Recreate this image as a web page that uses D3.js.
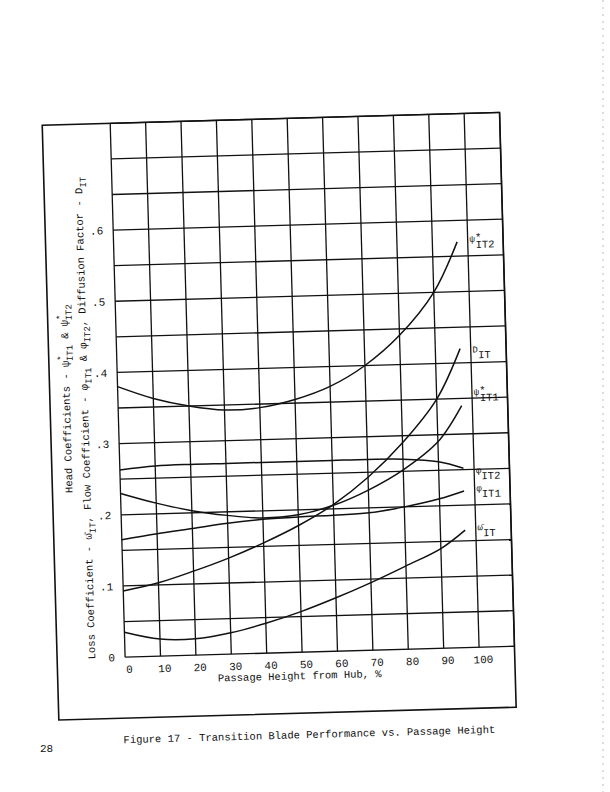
<!DOCTYPE html>
<html>
<head>
<meta charset="utf-8">
<script src="https://cdn.jsdelivr.net/npm/d3@7"></script>
<style>
body{margin:0;background:#fff;}
text{font-family:"Liberation Mono","DejaVu Sans Mono",monospace;fill:#111;}
</style>
</head>
<body>
<svg id="page" width="610" height="792"></svg>
<script>
// passage height from hub, %
var xs = [0, 10, 20, 30, 40, 50, 60, 70, 80, 90, 97];
var psiIT2 = [0.380, 0.362, 0.350, 0.343, 0.345, 0.355, 0.372, 0.400, 0.441, 0.500, 0.570];
var dIT    = [0.093, 0.103, 0.118, 0.135, 0.155, 0.178, 0.206, 0.243, 0.290, 0.350, 0.420];
var psiIT1 = [0.230, 0.215, 0.203, 0.195, 0.190, 0.193, 0.205, 0.225, 0.252, 0.290, 0.340];
var phiIT2 = [0.263, 0.267, 0.268, 0.268, 0.268, 0.268, 0.268, 0.268, 0.267, 0.262, 0.252];
var phiIT1 = [0.165, 0.172, 0.178, 0.184, 0.188, 0.190, 0.191, 0.193, 0.200, 0.210, 0.220];
var omgIT  = [0.035, 0.024, 0.023, 0.030, 0.042, 0.057, 0.075, 0.095, 0.117, 0.140, 0.165];
var xTicks = [0, 10, 20, 30, 40, 50, 60, 70, 80, 90, 100];
var yTicks = [0, 0.1, 0.2, 0.3, 0.4, 0.5, 0.6];
var yTickLabels = ["0", ".1", ".2", ".3", ".4", ".5", ".6"];

var svg = d3.select("#page");
var g = svg.append("g").attr("transform", "rotate(-1.6,305,400)");

var x = d3.scaleLinear().domain([0, 110]).range([118, 507.5]);
var y = d3.scaleLinear().domain([0, 0.75]).range([652, 118]);

// outer box
g.append("rect").attr("x", 50).attr("y", y(0.75)).attr("width", x(110) - 50).attr("height", 713 - y(0.75))
  .attr("fill", "none").attr("stroke", "#111").attr("stroke-width", 1.6);

// grid
g.selectAll(".vg").data(d3.range(0, 111, 10)).enter().append("line")
  .attr("x1", function(d){ return x(d); }).attr("x2", function(d){ return x(d); })
  .attr("y1", y(0)).attr("y2", y(0.75)).attr("stroke", "#111").attr("stroke-width", 1.3);
g.selectAll(".hg").data(d3.range(0, 16).map(function(i){ return i * 0.05; })).enter().append("line")
  .attr("x1", x(0)).attr("x2", x(110))
  .attr("y1", function(d){ return y(d); }).attr("y2", function(d){ return y(d); })
  .attr("stroke", "#111").attr("stroke-width", 1.3);

// tick labels
g.selectAll(".xt").data(xTicks).enter().append("text")
  .attr("x", function(d){ return x(d) + 4; }).attr("y", y(0) + 16)
  .attr("text-anchor", "middle").attr("font-size", 11).text(function(d){ return d; });
g.selectAll(".yt").data(yTicks).enter().append("text")
  .attr("x", x(0) - 10).attr("y", function(d){ return y(d) + 4; })
  .attr("text-anchor", "end").attr("font-size", 11).text(function(d, i){ return yTickLabels[i]; });

g.append("text").attr("x", 292).attr("y", y(0) + 27).attr("text-anchor", "middle")
  .attr("font-size", 10.5).text("Passage Height from Hub, %");

// rotated axis titles
var yl1 = g.append("text").attr("transform", "translate(70,392) rotate(-90)").attr("text-anchor", "middle");
yl1.append("tspan").attr("font-size", 10.5).text("Head Coefficients - ψ");
yl1.append("tspan").attr("font-size", 9).attr("dy", -5).text("*");
yl1.append("tspan").attr("font-size", 9).attr("dx", -6).attr("dy", 9).text("IT1");
yl1.append("tspan").attr("font-size", 10.5).attr("dy", -4).text(" & ψ");
yl1.append("tspan").attr("font-size", 9).attr("dy", -5).text("*");
yl1.append("tspan").attr("font-size", 9).attr("dx", -6).attr("dy", 9).text("IT2");

var yl2 = g.append("text").attr("transform", "translate(88,412) rotate(-90)").attr("text-anchor", "middle");
yl2.append("tspan").attr("font-size", 10.5).text("Loss Coefficient - ω̄");
yl2.append("tspan").attr("font-size", 9).attr("dy", 4).text("IT");
yl2.append("tspan").attr("font-size", 10.5).attr("dy", -4).text(", Flow Coefficient - φ");
yl2.append("tspan").attr("font-size", 9).attr("dy", 4).text("IT1");
yl2.append("tspan").attr("font-size", 10.5).attr("dy", -4).text(" & φ");
yl2.append("tspan").attr("font-size", 9).attr("dy", 4).text("IT2");
yl2.append("tspan").attr("font-size", 10.5).attr("dy", -4).text(", Diffusion Factor - D");
yl2.append("tspan").attr("font-size", 9).attr("dy", 4).text("IT");

// curves
var series = [
  {name: "psiIT2", vals: psiIT2, lab: ["ψ", "*", "IT2"], ly: 0.565},
  {name: "dIT", vals: dIT, lab: ["D", "", "IT"], ly: 0.41},
  {name: "psiIT1", vals: psiIT1, lab: ["ψ", "*", "IT1"], ly: 0.35},
  {name: "phiIT2", vals: phiIT2, lab: ["φ", "", "IT2"], ly: 0.24},
  {name: "phiIT1", vals: phiIT1, lab: ["φ", "", "IT1"], ly: 0.215},
  {name: "omgIT", vals: omgIT, lab: ["ω̄", "", "IT"], ly: 0.16}
];
var line = d3.line().x(function(d){ return x(d[0]); }).y(function(d){ return y(d[1]); }).curve(d3.curveCatmullRom);
series.forEach(function(s){
  g.append("path").attr("d", line(xs.map(function(v, i){ return [v, s.vals[i]]; })))
    .attr("fill", "none").attr("stroke", "#111").attr("stroke-width", 1.5);
  var t = g.append("text").attr("x", x(100.5)).attr("y", y(s.ly));
  t.append("tspan").attr("font-size", 9).attr("dy", -3).text(s.lab[0]);
  if (s.lab[1]) t.append("tspan").attr("font-size", 11).attr("dy", -1).text(s.lab[1]);
  t.append("tspan").attr("font-size", 10.5).attr("dy", s.lab[1] ? 7 : 6).attr("dx", s.lab[1] ? -6 : 0).text(s.lab[2]);
});

// caption
g.append("text").attr("x", 300).attr("y", 738).attr("text-anchor", "middle").attr("font-size", 10.5)
  .text("Figure 17  - Transition Blade Performance vs. Passage Height");
svg.append("text").attr("x", 40).attr("y", 752).attr("font-size", 11).text("28");
svg.append("line").attr("x1", 603).attr("x2", 603).attr("y1", 0).attr("y2", 792)
  .attr("stroke", "#bbb").attr("stroke-dasharray", "2,5");
</script>
</body>
</html>
